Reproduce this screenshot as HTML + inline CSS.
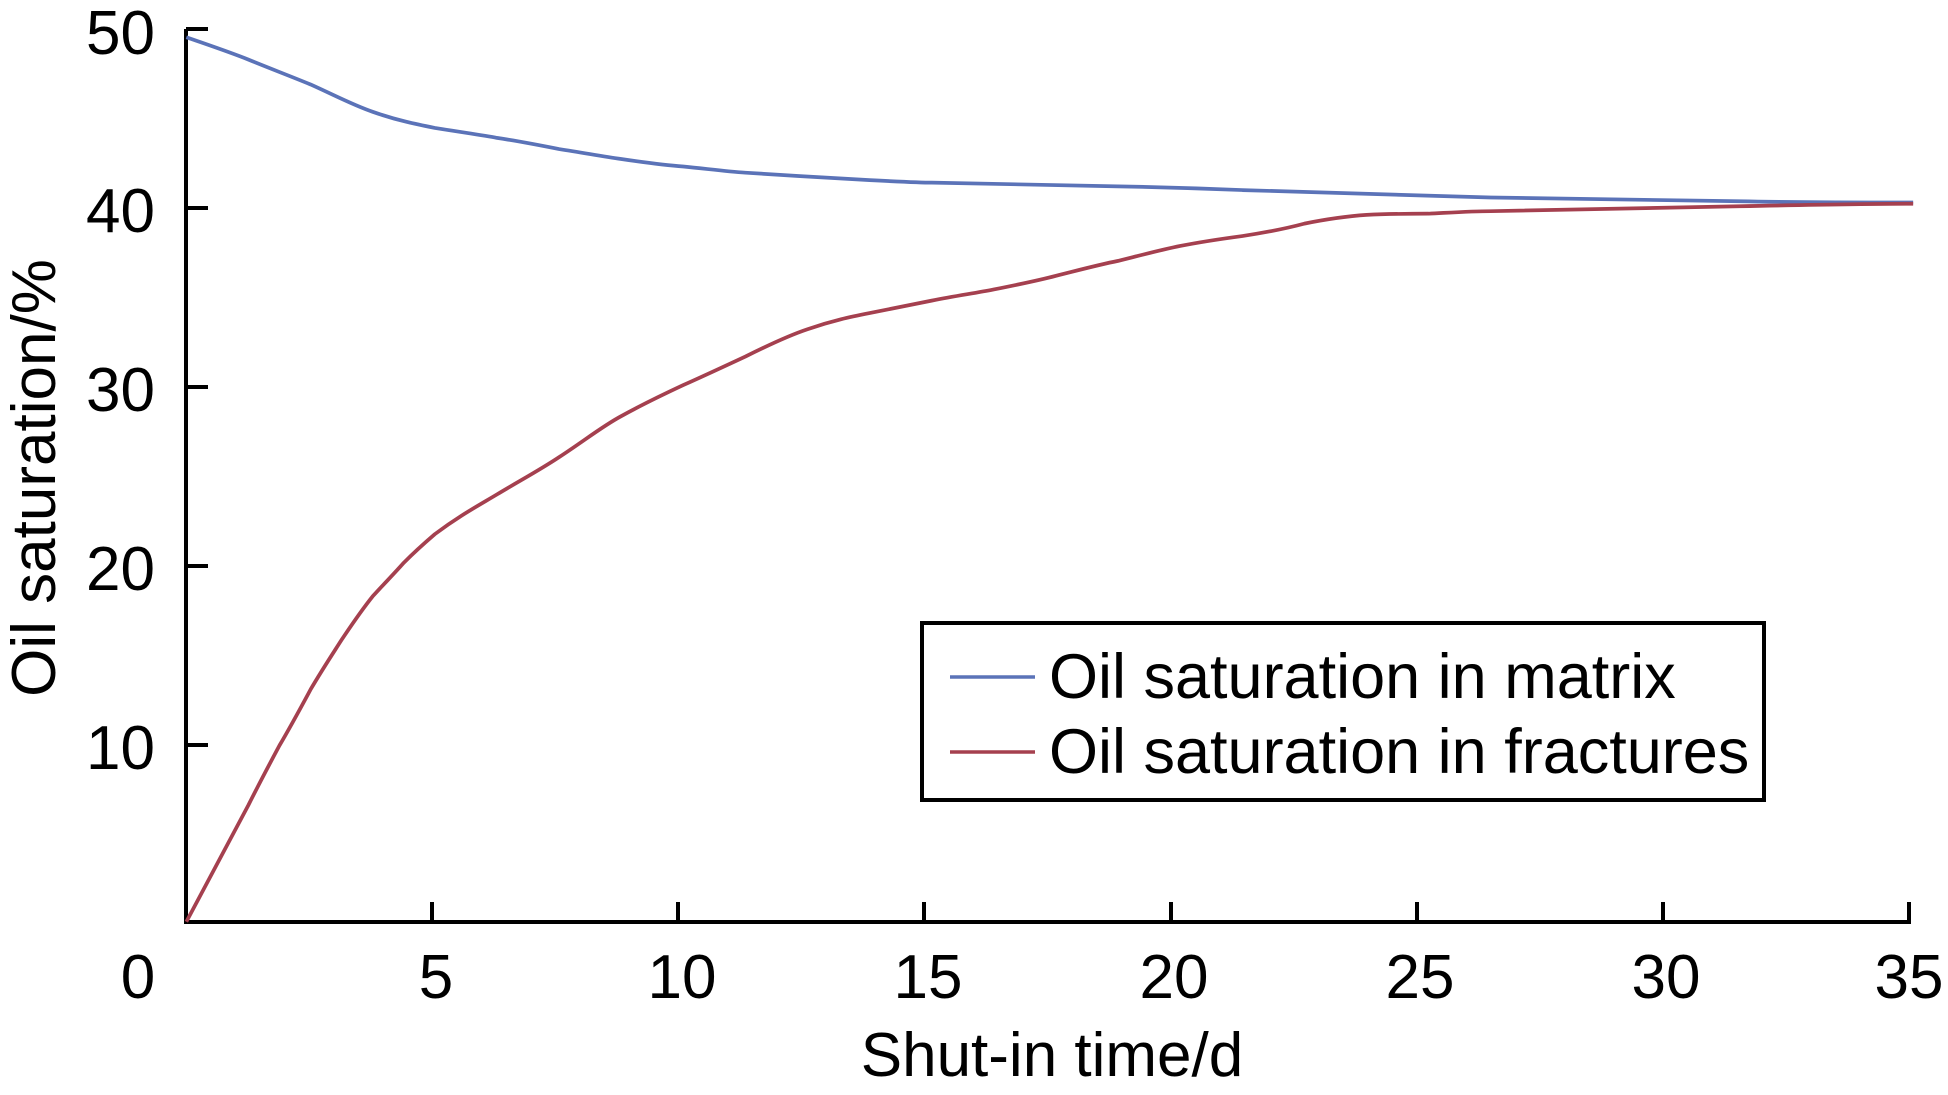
<!DOCTYPE html>
<html><head><meta charset="utf-8"><style>
html,body{margin:0;padding:0;background:#fff;}
svg{display:block;}
text{font-family:"Liberation Sans",Arial,sans-serif;fill:#000;}
</style></head><body>
<svg width="1948" height="1095" viewBox="0 0 1948 1095" xmlns="http://www.w3.org/2000/svg">
<g stroke="#000" stroke-width="4" fill="none">
<path d="M186,29 V922 H1911"/>
<path d="M186,29 H208 M186,208 H208 M186,387 H208 M186,566 H208 M186,745 H208"/>
<path d="M432,922 V902 M678,922 V902 M924,922 V902 M1171,922 V902 M1417,922 V902 M1663,922 V902 M1909,922 V902"/>
</g>
<g font-size="62" text-anchor="end">
<text x="155" y="54">50</text>
<text x="155" y="232">40</text>
<text x="155" y="411">30</text>
<text x="155" y="590">20</text>
<text x="155" y="769">10</text>
</g>
<g font-size="62" text-anchor="middle">
<text x="138" y="998">0</text>
<text x="436" y="998">5</text>
<text x="682" y="998">10</text>
<text x="928" y="998">15</text>
<text x="1174" y="998">20</text>
<text x="1420" y="998">25</text>
<text x="1666" y="998">30</text>
<text x="1909" y="998">35</text>
<text x="1052" y="1076">Shut-in time/d</text>
<text transform="translate(55,478) rotate(-90)">Oil saturation/%</text>
</g>
<g transform="scale(1.2423)" fill="none" stroke-width="3" stroke-linejoin="round">
<path stroke="#5b73b8" d="M150,30 C170,37 185,42 200,48 C217,55 233,61 250,68 C270,77 285,85 300,90 C320,97 335,100 350,103 C375,107 390,109 400,111 C420,114 435,117 450,120 C470,123 485,126 500,128 C520,131 535,133 550,134 C570,136 585,138 600,139 C630,141 680,144 700,145 C720,146 740,147 750,147 C800,148 850,149 900,150 C950,151 1000,153 1000,153 C1050,155 1100,156 1200,159 C1250,160 1300,161 1400,162 C1450,163 1500,163 1540,163"/>
<path stroke="#a5404f" d="M150,742 L175,695 L200,648 C210,628 217,615 225,600 C235,583 243,568 250,555 C260,538 268,526 275,515 C285,500 292,490 300,480 C310,469 318,461 325,453 C335,443 343,436 350,430 C370,415 385,407 400,398 C420,386 435,378 450,368 C470,355 485,343 500,335 C520,324 535,317 550,310 C570,301 585,294 600,287 C620,277 635,270 650,265 C670,258 685,255 700,252 C720,248 735,245 750,242 C770,238 785,236 800,233 C820,229 835,226 850,222 C870,217 885,213 900,210 C920,205 935,201 950,198 C970,194 985,192 1000,190 C1020,187 1035,184 1050,180 C1070,176 1085,174 1100,173 C1120,172 1140,172 1150,172 C1170,171 1185,170 1200,170 C1250,169 1300,168 1400,166 C1450,165 1500,164 1540,164"/>
</g>
<rect x="922" y="623" width="842" height="177" fill="none" stroke="#000" stroke-width="4"/>
<path d="M950,677 H1035" stroke="#5b73b8" stroke-width="3.5"/>
<path d="M950,752 H1035" stroke="#a5404f" stroke-width="3.5"/>
<g font-size="63">
<text x="1049" y="698">Oil saturation in matrix</text>
<text x="1049" y="773">Oil saturation in fractures</text>
</g>
</svg>
</body></html>
